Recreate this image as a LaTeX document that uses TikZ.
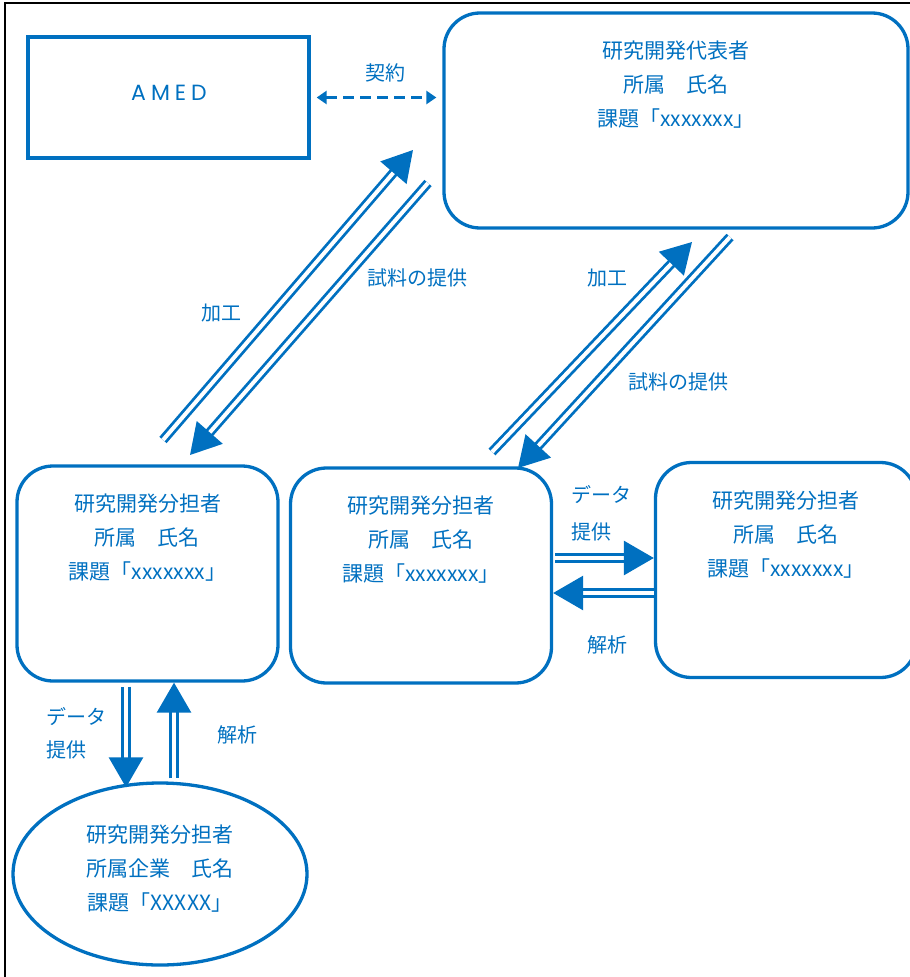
\documentclass[tikz,border=0pt]{standalone}
\usepackage{fontspec}
\setmainfont{Noto Sans CJK JP}
\newfontfamily\amedfont{Poppins}
\usetikzlibrary{arrows.meta, positioning, shapes.geometric, calc}
\definecolor{amedblue}{RGB}{0,112,192}

\begin{document}
\begin{tikzpicture}[x=1pt, y=-1pt,
    bluebox/.style={draw=amedblue, line width=3.3pt, inner sep=0pt},
    roundbox/.style={bluebox, rounded corners=36pt, minimum width=261pt, minimum height=215pt},
    boxtext/.style={text=amedblue, align=center, inner sep=0pt, font=\fontsize{21pt}{34pt}\selectfont},
    lbl/.style={text=amedblue, inner sep=0pt, font=\fontsize{20pt}{35pt}\selectfont},
    flow/.style={draw=amedblue, line width=2.8pt, double=white, double distance=4pt, -{Triangle[length=30pt, width=34pt]}},
    contract/.style={draw=amedblue, line width=3pt, dash pattern=on 11pt off 6pt, {Triangle[length=10pt, width=13pt]}-{Triangle[length=10pt, width=13pt]}}]
\useasboundingbox (0,0) rectangle (910,977);
\draw[line width=2pt] (5,977) -- (5,3) -- (910,3);

% boxes
\node[bluebox, minimum width=281pt, minimum height=121pt] (amed) at (168.5,97.5) {};
\node[text=amedblue, inner sep=0pt, font=\amedfont\fontsize{22pt}{22pt}\selectfont] (amedtxt) at (169,93) {A\kern5pt M\kern5pt E\kern5pt D};
\node[roundbox, minimum width=464pt] (rep) at (676,120.5) {};
\node[boxtext, below=29.5pt of rep.north] (reptxt) {研究開発代表者\\所属　氏名\\課題「xxxxxxx」};
\node[roundbox] (subL) at (147.5,573.5) {};
\node[boxtext, below=29.5pt of subL.north] (subLtxt) {研究開発分担者\\所属　氏名\\課題「xxxxxxx」};
\node[roundbox] (subM) at (421,575.5) {};
\node[boxtext, below=29.5pt of subM.north] (subMtxt) {研究開発分担者\\所属　氏名\\課題「xxxxxxx」};
\node[roundbox] (subR) at (786,570) {};
\node[boxtext, below=29.5pt of subR.north] (subRtxt) {研究開発分担者\\所属　氏名\\課題「xxxxxxx」};
\node[bluebox, ellipse, minimum width=294pt, minimum height=182pt] (corp) at (160,874) {};
\node[boxtext] (corptxt) at (160,869) {研究開発分担者\\所属企業　氏名\\課題「XXXXX」};

% contract
\draw[contract] ([xshift=6pt]amed.east) -- ($(amed.east -| rep.west)+(-6,0)$);
\node[lbl] (keiyaku) at (385,73) {契約};

% processing / samples
\coordinate (kakoLs) at (163,440);
\coordinate (kakoLe) at (413,150);
\coordinate (shiryoLs) at (428,183);
\coordinate (shiryoLe) at (190,455);
\coordinate (kakoMs) at (492,452);
\coordinate (kakoMe) at (692,242);
\coordinate (shiryoMs) at (730,237);
\coordinate (shiryoMe) at (518,468);
\draw[flow] (kakoLs) -- (kakoLe);
\draw[flow] (shiryoLs) -- (shiryoLe);
\draw[flow] (kakoMs) -- (kakoMe);
\draw[flow] (shiryoMs) -- (shiryoMe);
\node[lbl] (kakoL) at (221,313) {加工};
\node[lbl] (shiryoL) at (417,278) {試料の提供};
\node[lbl] (kakoM) at (607,278) {加工};
\node[lbl] (shiryoM) at (678,382) {試料の提供};

% data / analysis
\coordinate (dataY) at (0,558);
\coordinate (kaisekiY) at (0,593);
\coordinate (dataX) at (126,0);
\coordinate (kaisekiX) at (174,0);
\draw[flow] ($(subM.east |- dataY)+(2,0)$) -- (subR.west |- dataY);
\draw[flow] (subR.west |- kaisekiY) -- (subM.east |- kaisekiY);
\draw[flow] ($(subL.south -| dataX)+(0,4)$) -- ($(corp.north -| dataX)+(0,6)$);
\draw[flow] ($(corp.north -| kaisekiX)+(0,-3)$) -- (subL.south -| kaisekiX);
\node[lbl, align=left, anchor=west] (dataR) at (571,513) {データ\\[2pt]提供};
\node[lbl] (kaisekiR) at (607,645) {解析};
\node[lbl, align=left, anchor=west] (dataB) at (46,733) {データ\\[-2pt]提供};
\node[lbl] (kaisekiB) at (237,735) {解析};
\end{tikzpicture}
\end{document}
